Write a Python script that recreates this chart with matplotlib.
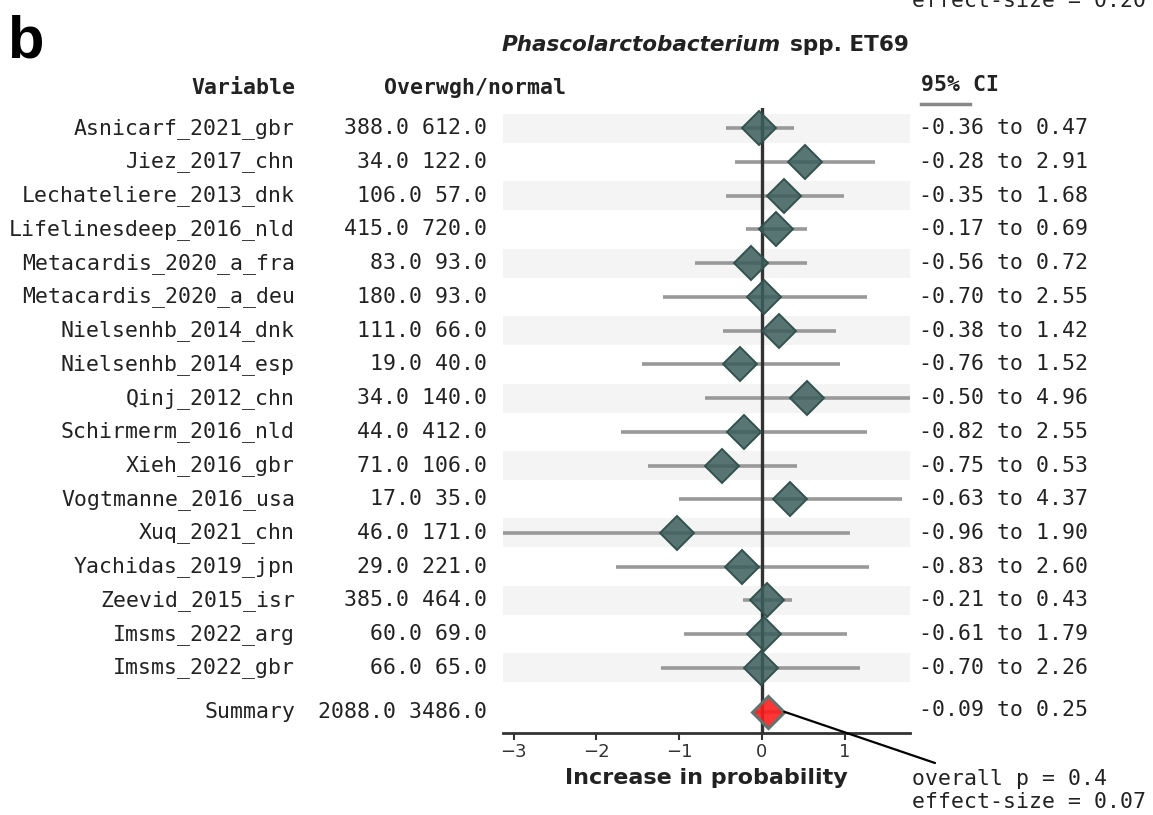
import matplotlib
matplotlib.use("Agg")
import matplotlib.pyplot as plt
from matplotlib import transforms
from matplotlib.lines import Line2D

# studies and sample sizes (overweight / normal)
studies = ["Asnicarf_2021_gbr", "Jiez_2017_chn", "Lechateliere_2013_dnk",
           "Lifelinesdeep_2016_nld", "Metacardis_2020_a_fra", "Metacardis_2020_a_deu",
           "Nielsenhb_2014_dnk", "Nielsenhb_2014_esp", "Qinj_2012_chn",
           "Schirmerm_2016_nld", "Xieh_2016_gbr", "Vogtmanne_2016_usa",
           "Xuq_2021_chn", "Yachidas_2019_jpn", "Zeevid_2015_isr",
           "Imsms_2022_arg", "Imsms_2022_gbr"]
n_over = [388, 34, 106, 415, 83, 180, 111, 19, 34, 44, 71, 17, 46, 29, 385, 60, 66]
n_norm = [612, 122, 57, 720, 93, 93, 66, 40, 140, 412, 106, 35, 171, 221, 464, 69, 65]

# effect estimates and drawn interval ends
effect = [-0.03, 0.52, 0.27, 0.165, -0.137, 0.03, 0.21, -0.26, 0.55,
          -0.22, -0.48, 0.34, -1.03, -0.24, 0.065, 0.03, -0.016]
line_lo = [-0.44, -0.32, -0.43, -0.19, -0.81, -1.19, -0.47, -1.45, -0.69,
           -1.70, -1.375, -1.0, -3.5, -1.76, -0.23, -0.94, -1.22]
line_hi = [0.39, 1.37, 0.99, 0.54, 0.55, 1.27, 0.89, 0.94, 2.5,
           1.27, 0.43, 1.69, 1.07, 1.29, 0.36, 1.03, 1.19]

# 95% CI labels
ci_low = [-0.36, -0.28, -0.35, -0.17, -0.56, -0.70, -0.38, -0.76, -0.50,
          -0.82, -0.75, -0.63, -0.96, -0.83, -0.21, -0.61, -0.70]
ci_high = [0.47, 2.91, 1.68, 0.69, 0.72, 2.55, 1.42, 1.52, 4.96,
           2.55, 0.53, 4.37, 1.90, 2.60, 0.43, 1.79, 2.26]

summary_n = (2088, 3486)
summary_effect = 0.07
summary_ci = (-0.09, 0.25)
overall_p = 0.4
prev_effect = 0.20

W, H = 1153, 815
fig = plt.figure(figsize=(W / 100, H / 100), dpi=100)

def fx(px):
    return px / W

def fy(py):
    return 1 - py / H

ax = fig.add_axes([fx(503), fy(733), (910 - 503) / W, (733 - 108) / H])
row_y = list(range(len(studies)))
sum_y = 17.3
ax.set_xlim(-3.13, 1.79)
ax.set_ylim(17.93, -0.6)

for i in row_y[::2]:
    ax.axhspan(i - 0.43, i + 0.43, color="#f4f4f4", lw=0, zorder=0)

ax.hlines(row_y, line_lo, line_hi, color="#999999", lw=2.6, zorder=1)
ax.axvline(0, color="#333333", lw=2.4, zorder=2)
ax.plot(effect, row_y, "D", ms=17.5, mfc=(0.23, 0.37, 0.355, 0.85),
        mec="#33524f", mew=1.4, zorder=3, clip_on=False)
ax.hlines([sum_y], [summary_ci[0]], [summary_ci[1]], color="#999999", lw=2.6, zorder=1)
ax.plot([summary_effect], [sum_y], "D", ms=16.5, mfc=(1.0, 0.1, 0.1, 0.88),
        mec="#62736f", mew=2.2, zorder=3)

for s in ["left", "top", "right"]:
    ax.spines[s].set_visible(False)
ax.spines["bottom"].set_color("#333333")
ax.spines["bottom"].set_linewidth(2)
ax.set_yticks([])
ax.set_xticks([-3, -2, -1, 0, 1])
ax.tick_params(axis="x", length=5, width=1.5, color="#333333", pad=2,
               labelsize=13, labelcolor="#333333")

# text columns
tr = transforms.blended_transform_factory(fig.transFigure, ax.transData)
mono = "DejaVu Sans Mono"
fs = 15.5
for i, name in enumerate(studies):
    ax.text(fx(295), i, name, transform=tr, ha="right", va="center",
            family=mono, fontsize=fs, color="#222222")
    ax.text(fx(487), i, f"{n_over[i]:.1f} {n_norm[i]:.1f}", transform=tr,
            ha="right", va="center", family=mono, fontsize=fs, color="#222222")
    ax.text(fx(919), i, f"{ci_low[i]:.2f} to {ci_high[i]:.2f}", transform=tr,
            ha="left", va="center", family=mono, fontsize=fs, color="#222222")

ax.text(fx(295), sum_y, "Summary", transform=tr, ha="right", va="center",
        family=mono, fontsize=fs, color="#222222")
ax.text(fx(487), sum_y, f"{summary_n[0]:.1f} {summary_n[1]:.1f}", transform=tr,
        ha="right", va="center", family=mono, fontsize=fs, color="#222222")
ax.text(fx(919), sum_y - 0.05, f"{summary_ci[0]:.2f} to {summary_ci[1]:.2f}",
        transform=tr, ha="left", va="center", family=mono, fontsize=fs, color="#222222")

# headers
fig.text(fx(295), fy(88), "Variable", ha="right", va="center", family=mono,
         fontsize=fs, fontweight="bold", color="#222222")
fig.text(fx(384), fy(88), "Overwgh/normal", ha="left", va="center", family=mono,
         fontsize=fs, fontweight="bold", color="#222222")
fig.text(fx(921), fy(85), "95% CI", ha="left", va="center", family=mono,
         fontsize=fs, fontweight="bold", color="#222222")
fig.add_artist(Line2D([fx(921), fx(970)], [fy(104), fy(104)], color="#888888",
                      lw=2.5, transform=fig.transFigure))

# title and panel letter
fig.text(fx(781), fy(45), "Phascolarctobacterium", ha="right", va="center",
         fontsize=15.5, fontweight="bold", style="italic", color="#222222")
fig.text(fx(790), fy(45), "spp. ET69", ha="left", va="center",
         fontsize=15.5, fontweight="bold", color="#222222")
fig.text(fx(7), fy(58), "b", ha="left", va="baseline", family="Liberation Sans",
         fontsize=43, fontweight="bold", color="black")

fig.text(fx(706), fy(778), "Increase in probability", ha="center", va="center",
         fontsize=16, fontweight="bold", color="#222222")

# summary annotation
ax.annotate("", xy=(summary_ci[1] + 0.02, sum_y), xycoords="data",
            xytext=(fx(935), fy(763)), textcoords="figure fraction",
            arrowprops=dict(arrowstyle="-", color="black", lw=1.6,
                            shrinkA=0, shrinkB=0),
            annotation_clip=False)
fig.text(fx(912), fy(779), f"overall p = {overall_p}", ha="left", va="center",
         family=mono, fontsize=fs, color="#222222")
fig.text(fx(912), fy(802), f"effect-size = {summary_effect:.2f}", ha="left",
         va="center", family=mono, fontsize=fs, color="#222222")
fig.text(fx(912), fy(7), f"effect-size = {prev_effect:.2f}", ha="left",
         va="baseline", family=mono, fontsize=fs, color="#222222")

fig.savefig("out.png", dpi=100)
